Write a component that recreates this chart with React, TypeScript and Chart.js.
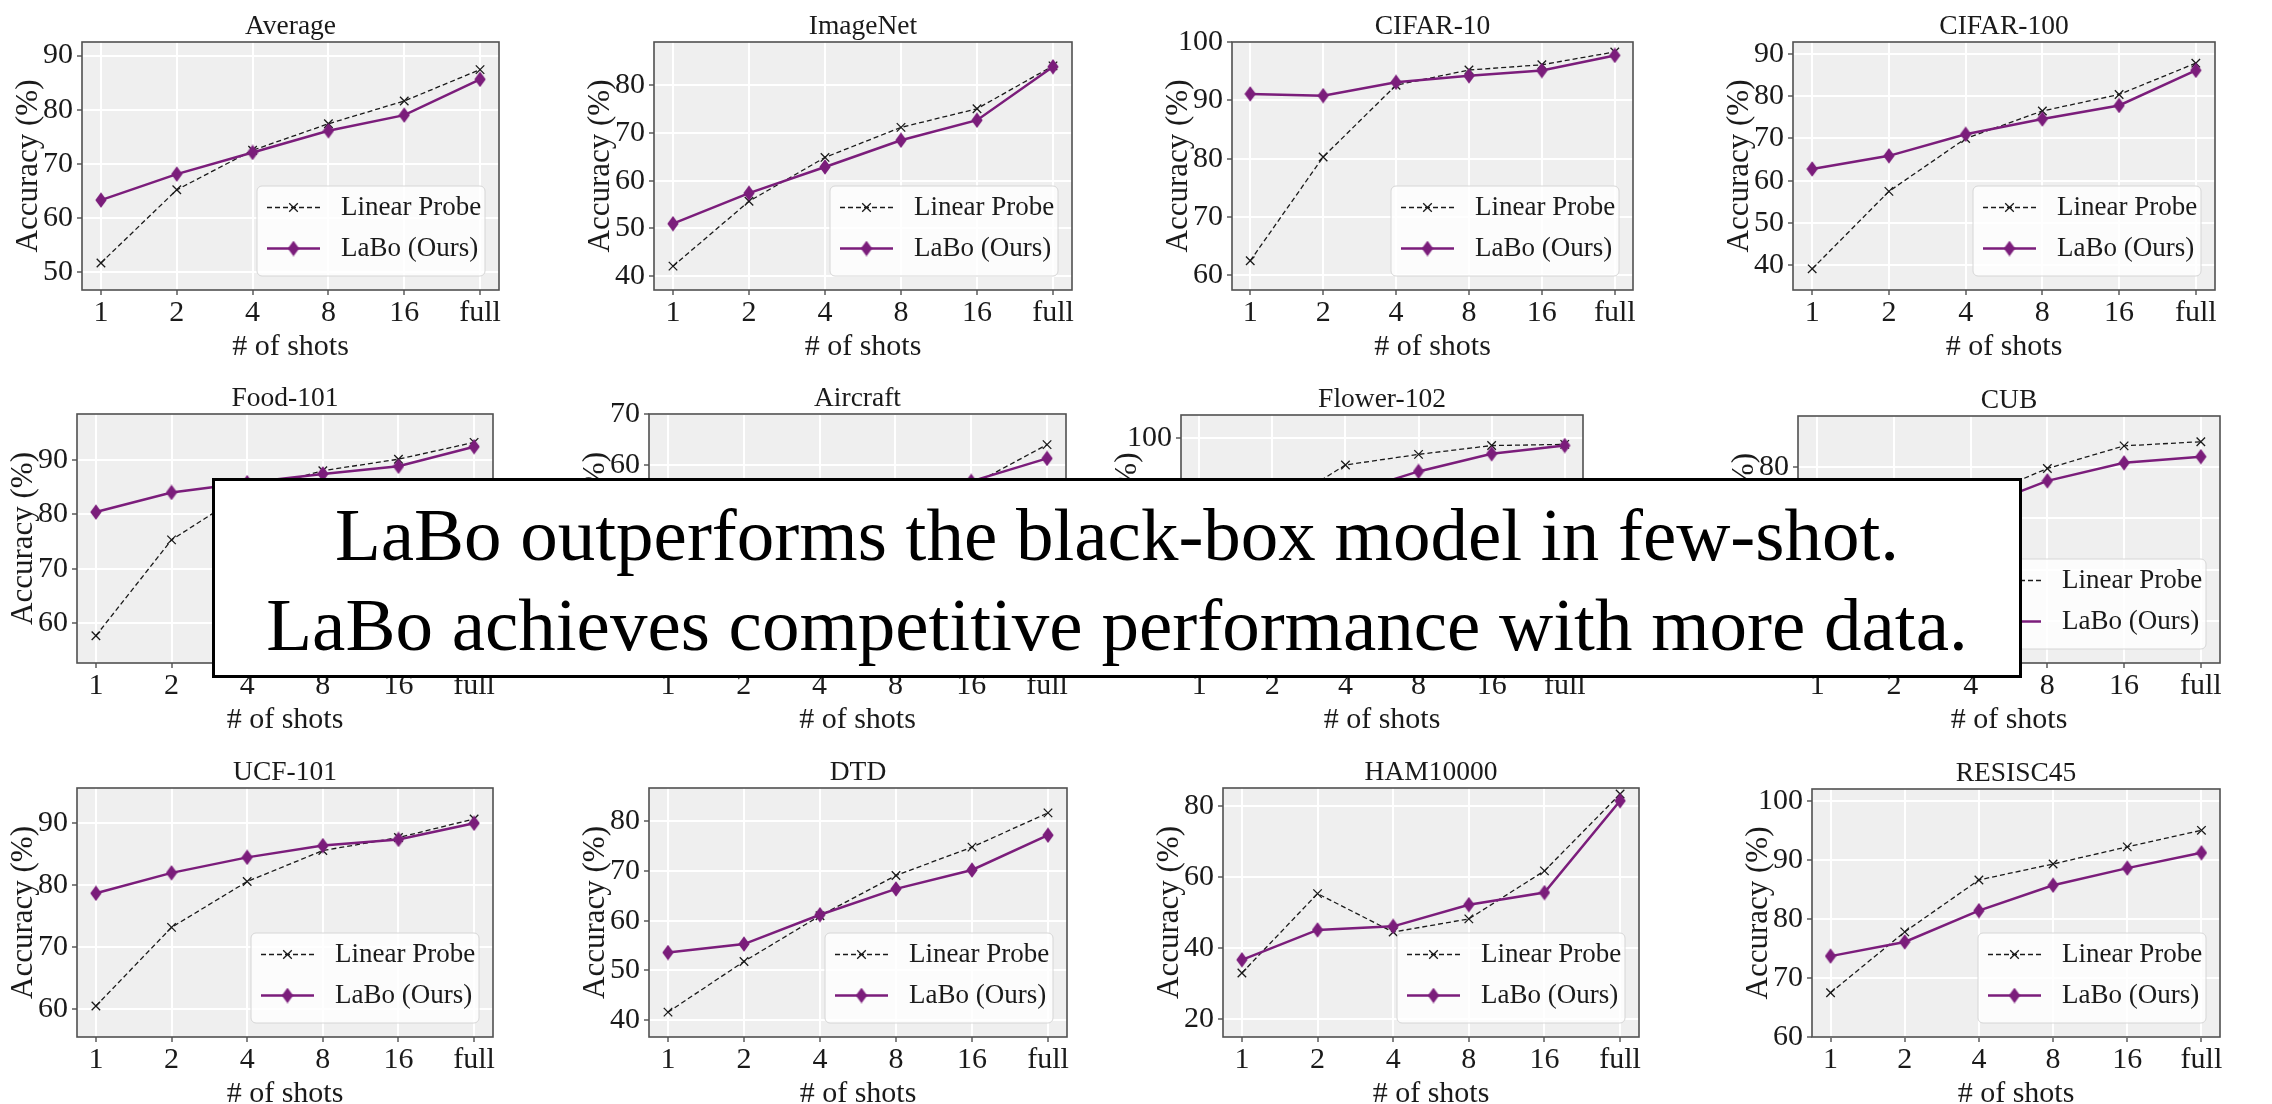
import React, { useEffect, useRef } from 'react';
import { Chart, registerables } from 'chart.js';

Chart.register(...registerables);

// ---------------- data ----------------
const SHOTS = ['1', '2', '4', '8', '16', 'full'];
const SERIES = ['Linear Probe', 'LaBo (Ours)'];
const X_TITLE = '# of shots';
const Y_TITLE = 'Accuracy (%)';
const PANEL_TITLES = [
  'Average', 'ImageNet', 'CIFAR-10', 'CIFAR-100',
  'Food-101', 'Aircraft', 'Flower-102', 'CUB',
  'UCF-101', 'DTD', 'HAM10000', 'RESISC45',
];

const LP_AVERAGE = [51.7, 65.2, 72.5, 77.4, 81.6, 87.4];
const LABO_AVERAGE = [63.3, 68.1, 72.1, 76.1, 79.0, 85.6];
const LP_IMAGENET = [42.1, 55.7, 64.9, 71.2, 75.1, 84.1];
const LABO_IMAGENET = [51.0, 57.4, 62.9, 68.5, 72.7, 83.9];
const LP_CIFAR10 = [62.5, 80.3, 92.6, 95.2, 96.1, 98.3];
const LABO_CIFAR10 = [91.1, 90.8, 93.1, 94.2, 95.1, 97.7];
const LP_CIFAR100 = [39.2, 57.5, 70.0, 76.5, 80.4, 87.8];
const LABO_CIFAR100 = [62.8, 65.9, 71.0, 74.6, 77.8, 86.1];
const LP_FOOD = [57.7, 75.3, 84.2, 88.0, 90.1, 93.2];
const LABO_FOOD = [80.4, 84.0, 85.8, 87.4, 88.8, 92.4];
const LP_AIRCRAFT = [26.2, 35.0, 43.0, 50.0, 56.0, 64.0];
const LABO_AIRCRAFT = [30.5, 37.5, 44.0, 50.5, 56.8, 61.3];
const LP_FLOWER = [66.7, 87.6, 95.4, 97.2, 98.7, 98.9];
const LABO_FLOWER = [82.0, 86.5, 90.4, 94.3, 97.3, 98.7];
const LP_CUB = [46.9, 62.0, 73.4, 79.7, 84.1, 84.9];
const LABO_CUB = [54.5, 64.0, 71.5, 77.3, 80.8, 82.0];
const LP_UCF = [60.5, 73.2, 80.6, 85.6, 87.7, 90.7];
const LABO_UCF = [78.7, 82.0, 84.5, 86.4, 87.4, 90.0];
const LP_DTD = [41.6, 51.8, 61.0, 69.1, 74.8, 81.7];
const LABO_DTD = [53.6, 55.3, 61.2, 66.4, 70.2, 77.2];
const LP_HAM = [33.0, 55.3, 44.5, 48.2, 61.7, 83.3];
const LABO_HAM = [36.7, 45.1, 46.1, 52.2, 55.6, 81.4];
const LP_RESISC = [67.5, 77.8, 86.6, 89.3, 92.2, 95.0];
const LABO_RESISC = [73.7, 76.1, 81.4, 85.7, 88.6, 91.2];

const LINEAR_PROBE = [
  LP_AVERAGE, LP_IMAGENET, LP_CIFAR10, LP_CIFAR100,
  LP_FOOD, LP_AIRCRAFT, LP_FLOWER, LP_CUB,
  LP_UCF, LP_DTD, LP_HAM, LP_RESISC,
];
const LABO = [
  LABO_AVERAGE, LABO_IMAGENET, LABO_CIFAR10, LABO_CIFAR100,
  LABO_FOOD, LABO_AIRCRAFT, LABO_FLOWER, LABO_CUB,
  LABO_UCF, LABO_DTD, LABO_HAM, LABO_RESISC,
];

const Y_LIMITS = [
  [46.7, 92.5], [37.1, 89.1], [57.5, 100], [34.2, 92.8],
  [52.7, 98.4], [21.2, 70], [61.7, 103.9], [41.9, 89.9],
  [55.5, 95.7], [36.6, 86.7], [15, 85], [60, 102],
];
const Y_TICKS = [
  [50, 60, 70, 80, 90], [40, 50, 60, 70, 80], [60, 70, 80, 90, 100], [40, 50, 60, 70, 80, 90],
  [60, 70, 80, 90], [30, 40, 50, 60, 70], [70, 80, 90, 100], [50, 60, 70, 80],
  [60, 70, 80, 90], [40, 50, 60, 70, 80], [20, 40, 60, 80], [60, 70, 80, 90, 100],
];

const OVERLAY_LINES = [
  'LaBo outperforms the black-box model in few-shot.',
  'LaBo achieves competitive performance with more data.',
];

// ---------------- layout & style ----------------
// plot area rectangles [left, top, right, bottom] in page pixels
const PLOT_BOXES = [
  [82, 42, 499, 290], [654, 42, 1072, 290], [1232, 42, 1633, 290], [1793, 42, 2215, 290],
  [77, 414, 493, 663], [649, 414, 1066, 663], [1181, 415, 1583, 663], [1798, 416, 2220, 663],
  [77, 788, 493, 1037], [649, 788, 1067, 1037], [1223, 788, 1639, 1037], [1812, 789, 2220, 1037],
];

const FONT = '"Liberation Serif", "Times New Roman", Times, serif';
const INK = '#1a1a1a';
const PURPLE = '#7b1d7b';
const PANEL_BG = '#efefef';
const SPINE = '#505050';

const Y_AXIS_W = 76;
const TOP_PAD = 42;
const RIGHT_PAD = 20;
const X_AXIS_H = 75;

function makeDiamond(): HTMLCanvasElement {
  const c = document.createElement('canvas');
  c.width = 12;
  c.height = 16;
  const g = c.getContext('2d')!;
  g.fillStyle = PURPLE;
  g.beginPath();
  g.moveTo(6, 0.3);
  g.lineTo(11.7, 8);
  g.lineTo(6, 15.7);
  g.lineTo(0.3, 8);
  g.closePath();
  g.fill();
  return c;
}

function roundRectPath(ctx: CanvasRenderingContext2D, x: number, y: number, w: number, h: number, r: number) {
  ctx.beginPath();
  ctx.moveTo(x + r, y);
  ctx.lineTo(x + w - r, y);
  ctx.arcTo(x + w, y, x + w, y + r, r);
  ctx.lineTo(x + w, y + h - r);
  ctx.arcTo(x + w, y + h, x + w - r, y + h, r);
  ctx.lineTo(x + r, y + h);
  ctx.arcTo(x, y + h, x, y + h - r, r);
  ctx.lineTo(x, y + r);
  ctx.arcTo(x, y, x + r, y, r);
  ctx.closePath();
}

function makeDecor(title: string, diamond: HTMLCanvasElement) {
  return {
    id: 'panelDecor',
    beforeDraw(chart: any) {
      const { ctx, chartArea: a } = chart;
      ctx.save();
      ctx.fillStyle = PANEL_BG;
      ctx.fillRect(a.left, a.top, a.right - a.left, a.bottom - a.top);
      ctx.restore();
    },
    afterDatasetsDraw(chart: any) {
      const { ctx, chartArea: a } = chart;
      ctx.save();
      // spines
      ctx.strokeStyle = SPINE;
      ctx.lineWidth = 1.6;
      ctx.strokeRect(a.left, a.top, a.right - a.left, a.bottom - a.top);
      // title
      ctx.fillStyle = INK;
      ctx.font = `27.5px ${FONT}`;
      ctx.textAlign = 'center';
      ctx.textBaseline = 'alphabetic';
      ctx.fillText(title, (a.left + a.right) / 2, a.top - 8);
      // legend
      const bw = 228;
      const bh = 90;
      const bx = a.right - 14 - bw;
      const by = a.bottom - 14 - bh;
      roundRectPath(ctx, bx, by, bw, bh, 5);
      ctx.fillStyle = 'rgba(255,255,255,0.82)';
      ctx.fill();
      ctx.strokeStyle = '#d6d6d6';
      ctx.lineWidth = 1;
      ctx.stroke();
      const hx0 = bx + 10;
      const hx1 = bx + 63;
      const hm = (hx0 + hx1) / 2;
      const y1 = by + 21.5;
      const y2 = by + 62.5;
      ctx.strokeStyle = INK;
      ctx.lineWidth = 1.3;
      ctx.setLineDash([5, 3]);
      ctx.beginPath();
      ctx.moveTo(hx0, y1);
      ctx.lineTo(hx1, y1);
      ctx.stroke();
      ctx.setLineDash([]);
      const r = 4.3;
      ctx.beginPath();
      ctx.moveTo(hm - r, y1 - r);
      ctx.lineTo(hm + r, y1 + r);
      ctx.moveTo(hm + r, y1 - r);
      ctx.lineTo(hm - r, y1 + r);
      ctx.stroke();
      ctx.strokeStyle = PURPLE;
      ctx.lineWidth = 2.5;
      ctx.beginPath();
      ctx.moveTo(hx0, y2);
      ctx.lineTo(hx1, y2);
      ctx.stroke();
      ctx.drawImage(diamond, hm - 6, y2 - 8);
      ctx.fillStyle = INK;
      ctx.font = `27px ${FONT}`;
      ctx.textAlign = 'left';
      ctx.textBaseline = 'middle';
      ctx.fillText(SERIES[0], bx + 84, y1);
      ctx.fillText(SERIES[1], bx + 84, y2);
      ctx.restore();
    },
  };
}

function Panel({ index }: { index: number }) {
  const ref = useRef<HTMLCanvasElement | null>(null);
  const [l, t, r, b] = PLOT_BOXES[index];
  const w = Y_AXIS_W + (r - l) + RIGHT_PAD;
  const h = TOP_PAD + (b - t) + X_AXIS_H;

  useEffect(() => {
    const canvas = ref.current;
    if (!canvas) return;
    const diamond = makeDiamond();
    const lp = LINEAR_PROBE[index];
    const labo = LABO[index];
    const [ymin, ymax] = Y_LIMITS[index];
    const yticks = Y_TICKS[index];
    const tickFont = { family: FONT, size: 30 };
    const chart = new Chart(canvas, {
      type: 'line',
      data: {
        datasets: [
          {
            label: SERIES[0],
            data: lp.map((y, i) => ({ x: i, y })),
            borderColor: INK,
            backgroundColor: INK,
            borderWidth: 1.3,
            borderDash: [5, 3],
            pointStyle: 'crossRot',
            pointRadius: 6,
            pointBorderColor: INK,
            pointBorderWidth: 1.3,
            fill: false,
            tension: 0,
            order: 1,
          },
          {
            label: SERIES[1],
            data: labo.map((y, i) => ({ x: i, y })),
            borderColor: PURPLE,
            backgroundColor: PURPLE,
            borderWidth: 2.5,
            pointStyle: diamond as any,
            pointRadius: 7,
            fill: false,
            tension: 0,
            order: 0,
          },
        ],
      },
      options: {
        animation: false,
        responsive: false,
        devicePixelRatio: 1,
        events: [],
        layout: { padding: { left: 0, top: TOP_PAD, right: RIGHT_PAD, bottom: 0 } },
        plugins: {
          legend: { display: false },
          title: { display: false },
          tooltip: { enabled: false },
        },
        scales: {
          x: {
            type: 'linear',
            min: -0.25,
            max: 5.25,
            afterBuildTicks: (s: any) => {
              s.ticks = SHOTS.map((_, i) => ({ value: i }));
            },
            afterFit: (s: any) => {
              s.height = X_AXIS_H;
            },
            ticks: {
              callback: (v: any) => SHOTS[Math.round(Number(v))] ?? '',
              font: tickFont,
              color: INK,
              padding: 0,
              maxRotation: 0,
              autoSkip: false,
            },
            grid: { color: '#ffffff', lineWidth: 2, tickColor: SPINE, tickLength: 5, tickWidth: 1.4 },
            border: { display: false },
            title: {
              display: true,
              text: X_TITLE,
              font: { family: FONT, size: 30 },
              color: INK,
              padding: { top: 0, bottom: 0 },
            },
          },
          y: {
            type: 'linear',
            min: ymin,
            max: ymax,
            afterBuildTicks: (s: any) => {
              s.ticks = yticks.map((v) => ({ value: v }));
            },
            afterFit: (s: any) => {
              s.width = Y_AXIS_W;
            },
            ticks: {
              callback: (v: any) => String(v),
              font: tickFont,
              color: INK,
              padding: 4,
              autoSkip: false,
            },
            grid: { color: '#ffffff', lineWidth: 2, tickColor: SPINE, tickLength: 5, tickWidth: 1.4 },
            border: { display: false },
            title: {
              display: true,
              text: Y_TITLE,
              font: { family: FONT, size: 31 },
              color: INK,
              padding: { top: 4, bottom: 0 },
            },
          },
        },
      },
      plugins: [makeDecor(PANEL_TITLES[index], diamond)],
    } as any);
    return () => chart.destroy();
  }, [index]);

  return (
    <canvas
      ref={ref}
      width={w}
      height={h}
      style={{ position: 'absolute', left: l - Y_AXIS_W, top: t - TOP_PAD, width: w, height: h }}
    />
  );
}

export default function App() {
  return (
    <div
      style={{
        position: 'absolute',
        left: 0,
        top: 0,
        width: 2272,
        height: 1104,
        overflow: 'hidden',
        background: '#ffffff',
      }}
    >
      {PANEL_TITLES.map((_, i) => (
        <Panel key={i} index={i} />
      ))}
      <div
        style={{
          position: 'absolute',
          left: 212,
          top: 478,
          width: 1810,
          height: 200,
          boxSizing: 'border-box',
          border: '3px solid #000',
          background: '#ffffff',
        }}
      >
        <div
          style={{
            position: 'absolute',
            left: 0,
            right: 0,
            top: 8.7,
            textAlign: 'center',
            fontFamily: FONT,
            fontSize: 75,
            lineHeight: '90px',
            color: '#000',
            whiteSpace: 'nowrap',
          }}
        >
          {OVERLAY_LINES.map((s, i) => (
            <div key={i}>{s}</div>
          ))}
        </div>
      </div>
    </div>
  );
}
